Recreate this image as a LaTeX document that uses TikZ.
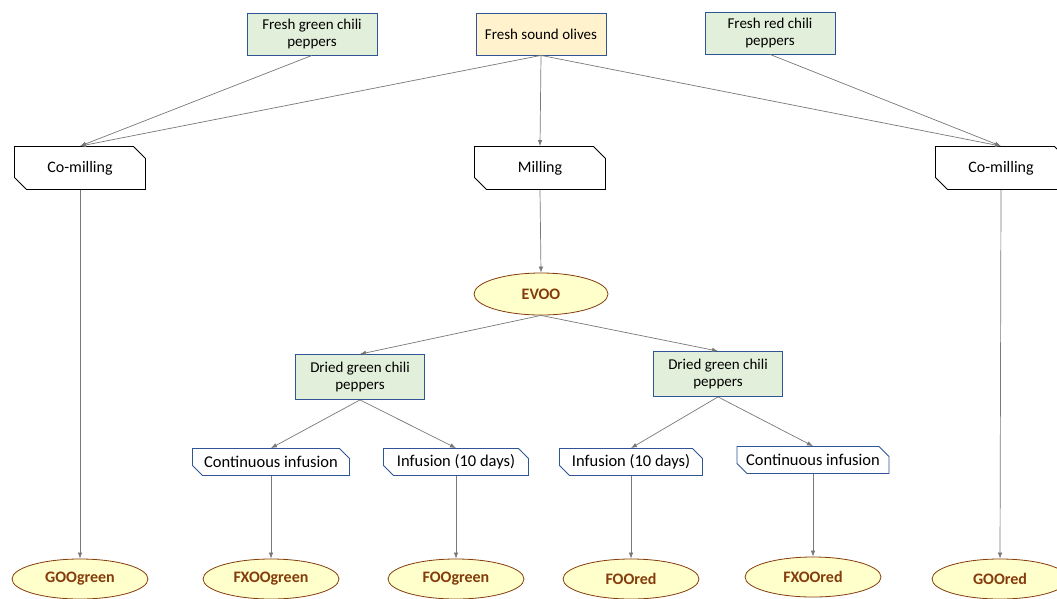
\documentclass[tikz,border=0pt]{standalone}
\usepackage{fontspec}
\setmainfont{Carlito}
\usetikzlibrary{arrows.meta,shapes.geometric,shapes.misc}
\definecolor{pgreen}{RGB}{226,239,218}
\definecolor{pyellow}{RGB}{255,242,204}
\definecolor{pblue}{RGB}{47,85,151}
\definecolor{oilfill}{RGB}{255,255,204}
\definecolor{oilbrown}{RGB}{132,60,12}
\definecolor{lgray}{RGB}{120,120,120}

\tikzset{
  rawbox/.style={draw=pblue, line width=0.8pt, minimum width=130, minimum height=42,
    align=center, font=\fontsize{15}{17}\selectfont, inner sep=2pt},
  millbox/.style={chamfered rectangle, chamfered rectangle corners={north east,south west},
    chamfered rectangle xsep=6pt, chamfered rectangle ysep=6pt,
    draw=black, line width=0.8pt, fill=white, minimum width=131, minimum height=43,
    font=\fontsize{16}{18}\selectfont, inner sep=0pt},
  infbox/.style={chamfered rectangle, chamfered rectangle corners={north east,south west},
    chamfered rectangle xsep=5pt, chamfered rectangle ysep=5pt,
    draw=pblue, line width=0.8pt, fill=white, minimum height=27,
    font=\fontsize{16.5}{18}\selectfont, inner sep=0pt},
  oilell/.style={ellipse, draw=oilbrown, line width=0.8pt, fill=oilfill,
    minimum width=134, minimum height=42, inner sep=0pt,
    text=oilbrown, font=\fontsize{16}{18}\selectfont\bfseries},
  arr/.style={draw=lgray, line width=0.7pt, -{Latex[length=6pt,width=4.5pt]}}
}

\begin{document}
\begin{tikzpicture}[x=1pt,y=-1pt]
\clip (0,0) rectangle (1057,598);
\fill[white] (0,0) rectangle (1057,598);
% Raw materials
\node[rawbox, fill=pgreen] (gchili) at (312,34) {Fresh green chili\\peppers};
\node[rawbox, fill=pyellow] (olives) at (541,34) {Fresh sound olives};
\node[rawbox, fill=pgreen] (rchili) at (770,33) {Fresh red chili\\peppers};
% Milling steps
\node[millbox] (comillG) at (80,168) {Co-milling};
\node[millbox] (mill) at (540,168) {Milling};
\node[millbox] (comillR) at (1001,168) {Co-milling};
% Oil
\node[oilell] (evoo) at (541,294) {EVOO};
% Dried peppers
\node[rawbox, fill=pgreen, minimum width=129, minimum height=45] (driedG) at (360,377) {Dried green chili\\peppers};
\node[rawbox, fill=pgreen, minimum width=129, minimum height=45] (driedR) at (718,374) {Dried green chili\\peppers};
% Infusions
\node[infbox, minimum width=157] (contG) at (271,462) {Continuous infusion};
\node[infbox, minimum width=145] (infG) at (456,462) {Infusion (10 days)};
\node[infbox, minimum width=143] (infR) at (631,462) {Infusion (10 days)};
\node[infbox, minimum width=152] (contR) at (813,460) {Continuous infusion};
% Products
\node[oilell, minimum width=136, minimum height=40] (goog) at (80,579) {GOOgreen};
\node[oilell, minimum width=136, minimum height=40] (fxoog) at (271,579) {FXOOgreen};
\node[oilell, minimum width=136, minimum height=40] (foog) at (456,579) {FOOgreen};
\node[oilell, minimum width=136, minimum height=40] (foor) at (631,579) {FOOred};
\node[oilell, minimum width=136, minimum height=40] (fxoor) at (813,577) {FXOOred};
\node[oilell, minimum width=136, minimum height=40] (goor) at (1000,579) {GOOred};
% Connectors
\draw[arr] (gchili.south) -- (comillG.north);
\draw[arr] (olives.south) -- (comillG.north);
\draw[arr] (olives.south) -- (mill.north);
\draw[arr] (olives.south) -- (comillR.north);
\draw[arr] (rchili.south) -- (comillR.north);
\draw[arr] (comillG.south) -- (goog.north);
\draw[arr] (mill.south) -- (evoo.north);
\draw[arr] (comillR.south) -- (goor.north);
\draw[arr] (evoo.south) -- (driedG.north);
\draw[arr] (evoo.south) -- (driedR.north);
\draw[arr] (driedG.south) -- (contG.north);
\draw[arr] (driedG.south) -- (infG.north);
\draw[arr] (driedR.south) -- (infR.north);
\draw[arr] (driedR.south) -- (contR.north);
\draw[arr] (contG.south) -- (fxoog.north);
\draw[arr] (infG.south) -- (foog.north);
\draw[arr] (infR.south) -- (foor.north);
\draw[arr] (contR.south) -- (fxoor.north);
\end{tikzpicture}
\end{document}
